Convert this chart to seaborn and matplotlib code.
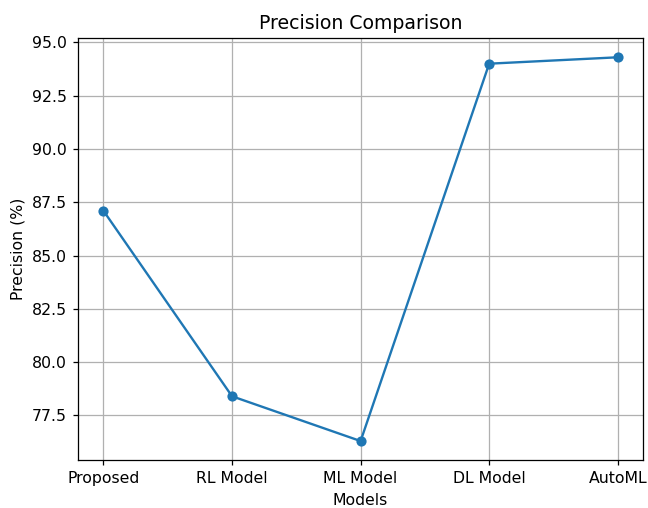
import matplotlib
matplotlib.use("Agg")
import matplotlib.pyplot as plt
import seaborn as sns
import pandas as pd

# --- Data ---
models = ["Proposed", "RL Model", "ML Model", "DL Model", "AutoML"]
precision = [87.1, 78.4, 76.3, 94.0, 94.3]

df = pd.DataFrame({"Models": models, "Precision": precision})

# --- Plot ---
dpi = 113
fig, ax = plt.subplots(figsize=(648 / dpi, 508 / dpi), dpi=dpi)
sns.lineplot(data=df, x="Models", y="Precision", marker="o", markersize=6.5,
             markeredgewidth=0, color="#1f77b4", sort=False, ax=ax)
ax.set_title("Precision Comparison")
ax.set_xlabel("Models")
ax.set_ylabel("Precision (%)")
ax.grid(True)
plt.subplots_adjust(left=0.12, right=0.993, top=0.925, bottom=0.094)
plt.savefig("out.png", dpi=dpi)
plt.close()
